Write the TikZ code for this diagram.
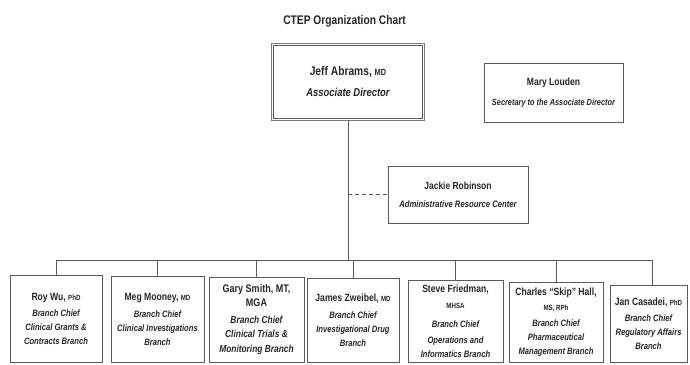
\documentclass[tikz,border=0pt]{standalone}
\usepackage{fontspec}
\setmainfont{Liberation Sans}[FakeStretch=0.82]
\definecolor{ink}{HTML}{262626}
\definecolor{edge}{HTML}{5A5A5A}
\newcommand\pname[1]{{\upshape\fontsize{10.5}{14}\selectfont #1}}
\newcommand\pdeg[1]{{\upshape\fontsize{7.5}{14}\selectfont #1}}
\begin{document}
\begin{tikzpicture}[x=1pt,y=-1pt,
  box/.style={draw=edge, line width=0.6pt, align=center, inner sep=0pt, text=ink},
  wire/.style={draw=edge, line width=0.6pt},
  btext/.style={font=\fontsize{9.3}{14}\selectfont\bfseries\itshape}
]
\useasboundingbox (0,0) rectangle (690,364);

\node[text=ink] (title) at (344.5,21) {\fontsize{12.5}{15}\selectfont\bfseries CTEP Organization Chart};

\node[box, minimum width=149pt, minimum height=73pt,
      font=\fontsize{11.5}{18}\selectfont\bfseries\itshape] (jeff) at (348,82)
  {{\upshape\fontsize{12.5}{18}\selectfont Jeff Abrams, {\fontsize{9}{18}\selectfont MD}}\\[3pt] Associate Director};
\draw[draw=edge!80, line width=0.9pt]
  ([shift={(-1.6pt,1.6pt)}]jeff.north west) rectangle ([shift={(1.6pt,-1.6pt)}]jeff.south east);

\node[box, minimum width=139pt, minimum height=59pt,
      font=\fontsize{9}{18}\selectfont\bfseries\itshape] (mary) at (553.5,92.5)
  {{\upshape\fontsize{10.4}{18}\selectfont Mary Louden}\\[2pt] Secretary to the Associate Director};

\node[box, minimum width=140pt, minimum height=57pt,
      font=\fontsize{9.4}{18}\selectfont\bfseries\itshape] (jackie) at (458,194.5)
  {{\upshape\fontsize{10.3}{18}\selectfont Jackie Robinson}\\ Administrative Resource Center};

\node[box, btext, minimum width=92pt, minimum height=87pt] (roy) at (56,318.5)
  {\pname{Roy Wu, \pdeg{PhD}}\\[2pt] Branch Chief\\ Clinical Grants \&\\ Contracts Branch};
\node[box, btext, minimum width=93pt, minimum height=86pt] (meg) at (157.5,319)
  {\pname{Meg Mooney, \pdeg{MD}}\\[3pt] Branch Chief\\ Clinical Investigations\\ Branch};
\node[box, minimum width=95pt, minimum height=85pt,
      font=\fontsize{10.2}{14.5}\selectfont\bfseries\itshape] (gary) at (256.5,319.5)
  {{\upshape\fontsize{11}{14.5}\selectfont Gary Smith, MT,}\\ {\upshape\fontsize{11}{14.5}\selectfont MGA}\\[2pt] Branch Chief\\ Clinical Trials \&\\ Monitoring Branch};
\node[box, btext, minimum width=92pt, minimum height=84pt] (james) at (353,320)
  {\pname{James Zweibel, \pdeg{MD}}\\[3pt] Branch Chief\\ Investigational Drug\\ Branch};
\node[box, btext, minimum width=95pt, minimum height=82pt] (steve) at (455.5,321)
  {\pname{Steve Friedman,}\\[2pt] \pdeg{MHSA}\\[5pt] Branch Chief\\[2pt] Operations and\\ Informatics Branch};
\node[box, btext, minimum width=94pt, minimum height=80pt] (charles) at (556,322)
  {\pname{Charles “Skip” Hall,}\\[1pt] \pdeg{MS, RPh}\\[2pt] Branch Chief\\ Pharmaceutical\\ Management Branch};
\node[box, btext, minimum width=77pt, minimum height=77pt] (jan) at (648.5,323.5)
  {\pname{Jan Casadei, \pdeg{PhD}}\\[2pt] Branch Chief\\ Regulatory Affairs\\ Branch};

\coordinate (bus) at (0,260);
\coordinate (jeffbot) at ([yshift=-1.6pt]jeff.south);
\coordinate (jantop) at ([xshift=3.5pt]jan.north);
\draw[wire] (jeffbot) -- (jeffbot |- bus);
\draw[wire] (roy.north |- bus) -- (jantop |- bus);
\foreach \n in {roy,meg,gary,james,steve,charles}
  \draw[wire] (\n.north) -- (\n.north |- bus);
\draw[wire] (jantop) -- (jantop |- bus);
\draw[wire, dash pattern=on 4pt off 3pt] (jeff.south |- jackie.west) -- (jackie.west);
\end{tikzpicture}
\end{document}
